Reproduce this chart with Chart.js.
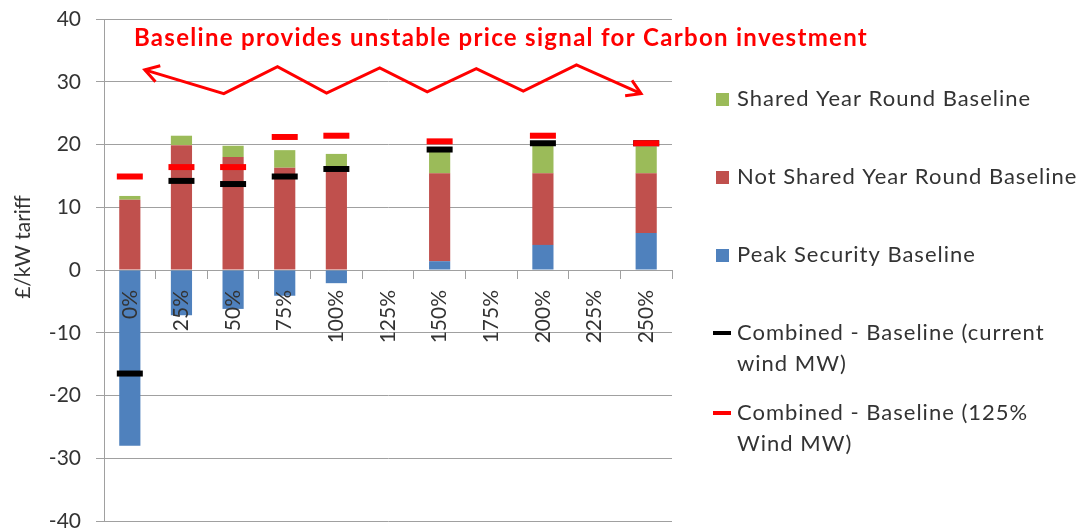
<!DOCTYPE html>
<html>
<head>
<meta charset="utf-8">
<script src="https://cdn.jsdelivr.net/npm/chart.js@4.4.1/dist/chart.umd.min.js"></script>
<style>
  body { margin: 0; background: #fff; }
  #wrap { width: 1079px; height: 530px; position: relative; }
</style>
</head>
<body>
<div id="wrap"><canvas id="tariffChart"></canvas></div>
<script>
// wind MW scenarios
const categories = ["0%", "25%", "50%", "75%", "100%", "125%", "150%", "175%", "200%", "225%", "250%"];

// tariff components, £/kW
const peakSecurity = [-28.0, -7.2, -6.2, -4.1, -2.1, null, 1.4, null, 4.0, null, 5.9];
const notSharedYearRound = [11.2, 19.9, 18.0, 16.3, 15.9, null, 14.0, null, 11.4, null, 9.5];
const sharedYearRound = [0.6, 1.5, 1.8, 2.8, 2.6, null, 4.1, null, 4.6, null, 4.3];

// combined tariff markers
const combinedCurrentWind = [-16.5, 14.2, 13.7, 14.9, 16.1, null, 19.2, null, 20.2, null, 20.2];
const combined125Wind = [14.9, 16.4, 16.4, 21.2, 21.4, null, 20.5, null, 21.4, null, 20.2];

const yTicks = [-40, -30, -20, -10, 0, 10, 20, 30, 40];

const headline = "Baseline provides unstable price signal for Carbon investment";
// zigzag under the headline, in (category index, £/kW)
const zigzag = [
  [0.29, 31.9], [1.82, 28.1], [2.86, 32.4], [3.81, 28.2], [4.84, 32.2],
  [5.76, 28.4], [6.71, 32.1], [7.62, 28.5], [8.65, 32.7], [9.90, 28.1]
];

const BLUE = "#4f81bd", RED = "#c0504d", GREEN = "#9bbb59";
const GRID = "#a0a0a0";
const TEXT = "#333333";
const FONT = "Lato, 'Open Sans', sans-serif";

// legend rows (dataset index, lines of text)
const legendRows = [
  [4, ["Shared Year Round Baseline"]],
  [3, ["Not Shared Year Round Baseline"]],
  [2, ["Peak Security Baseline"]],
  [1, ["Combined - Baseline (current", "wind MW)"]],
  [0, ["Combined - Baseline (125%", "Wind MW)"]]
];

function arrowHead(ctx, from, to, len) {
  const a = Math.atan2(to[1] - from[1], to[0] - from[0]);
  ctx.beginPath();
  ctx.moveTo(to[0] - len * Math.cos(a - 0.55), to[1] - len * Math.sin(a - 0.55));
  ctx.lineTo(to[0], to[1]);
  ctx.lineTo(to[0] - len * Math.cos(a + 0.55), to[1] - len * Math.sin(a + 0.55));
  ctx.stroke();
}

const extras = {
  id: "extras",
  afterDraw(chart) {
    const ctx = chart.ctx;
    const xs = chart.scales.x, ys = chart.scales.y;
    ctx.save();

    // headline
    ctx.fillStyle = "#ff0000";
    ctx.font = "bold 24px " + FONT;
    ctx.letterSpacing = "1.3px";
    ctx.textAlign = "center";
    ctx.textBaseline = "middle";
    ctx.fillText(headline, 501, 38);

    // zigzag arrow
    const pts = zigzag.map(p => [xs.getPixelForValue(p[0]), ys.getPixelForValue(p[1])]);
    ctx.strokeStyle = "#ff0000";
    ctx.lineWidth = 3;
    ctx.lineJoin = "miter";
    ctx.beginPath();
    pts.forEach((p, i) => i ? ctx.lineTo(p[0], p[1]) : ctx.moveTo(p[0], p[1]));
    ctx.stroke();
    arrowHead(ctx, pts[1], pts[0], 16);
    arrowHead(ctx, pts[pts.length - 2], pts[pts.length - 1], 16);

    // y axis title
    ctx.save();
    ctx.letterSpacing = "0px";
    ctx.translate(23, 247);
    ctx.rotate(-Math.PI / 2);
    ctx.fillStyle = TEXT;
    ctx.font = "21px " + FONT;
    ctx.fillText("£/kW tariff", 0, 0);
    ctx.restore();

    // legend
    ctx.font = "22px " + FONT;
    ctx.letterSpacing = "1px";
    ctx.textAlign = "left";
    const rowY = [99, 177, 255, 333, 413];
    legendRows.forEach(([di, lines], r) => {
      const ds = chart.data.datasets[di];
      const y = rowY[r];
      if (ds.type === "line") {
        ctx.fillStyle = ds.pointBorderColor;
        ctx.fillRect(713, y - 2, 18, 4);
      } else {
        ctx.fillStyle = ds.backgroundColor;
        ctx.fillRect(716, y - 6, 13, 13);
      }
      ctx.fillStyle = TEXT;
      lines.forEach((t, k) => ctx.fillText(t, 737, y + k * 31));
    });
    ctx.restore();
  }
};

const marker = (label, data, color, stack) => ({
  type: "line",
  label,
  data,
  stack,
  showLine: false,
  pointStyle: "line",
  pointRadius: 13,
  pointHoverRadius: 13,
  pointBorderWidth: 6,
  pointHoverBorderWidth: 6,
  pointBorderColor: color,
  borderColor: color
});

new Chart(document.getElementById("tariffChart"), {
  type: "bar",
  data: {
    labels: categories,
    datasets: [
      marker("Combined - Baseline (125% Wind MW)", combined125Wind, "#ff0000", "m125"),
      marker("Combined - Baseline (current wind MW)", combinedCurrentWind, "#000000", "mcur"),
      { label: "Peak Security Baseline", data: peakSecurity, backgroundColor: BLUE, stack: "bars" },
      { label: "Not Shared Year Round Baseline", data: notSharedYearRound, backgroundColor: RED, stack: "bars" },
      { label: "Shared Year Round Baseline", data: sharedYearRound, backgroundColor: GREEN, stack: "bars" }
    ]
  },
  options: {
    responsive: true,
    maintainAspectRatio: false,
    animation: false,
    events: [],
    layout: { autoPadding: false, padding: { left: 0, top: 19, right: 407, bottom: 9 } },
    datasets: { bar: { categoryPercentage: 1, barPercentage: 0.41 } },
    plugins: { legend: { display: false }, tooltip: { enabled: false } },
    scales: {
      x: {
        stacked: true,
        position: { y: 0 },
        offset: true,
        afterFit: s => { s.paddingTop = s.paddingBottom = s.paddingLeft = s.paddingRight = 0; },
        border: { display: true, color: GRID, width: 1 },
        grid: { display: true, drawOnChartArea: false, drawTicks: true, tickLength: 8, color: GRID, offset: true },
        ticks: { z: 1, minRotation: 90, maxRotation: 90, autoSkip: false, padding: 12, color: TEXT, font: { family: FONT, size: 21 } }
      },
      y: {
        stacked: true,
        min: -40,
        max: 40,
        afterBuildTicks: s => { s.ticks = yTicks.map(v => ({ value: v })); },
        afterFit: s => { s.width = 104; s.paddingTop = 0; s.paddingBottom = 0; },
        border: { display: true, color: GRID, width: 1 },
        grid: { color: GRID, tickLength: 8 },
        ticks: { padding: 15, color: TEXT, font: { family: FONT, size: 21 } }
      }
    }
  },
  plugins: [extras]
});
</script>
</body>
</html>
